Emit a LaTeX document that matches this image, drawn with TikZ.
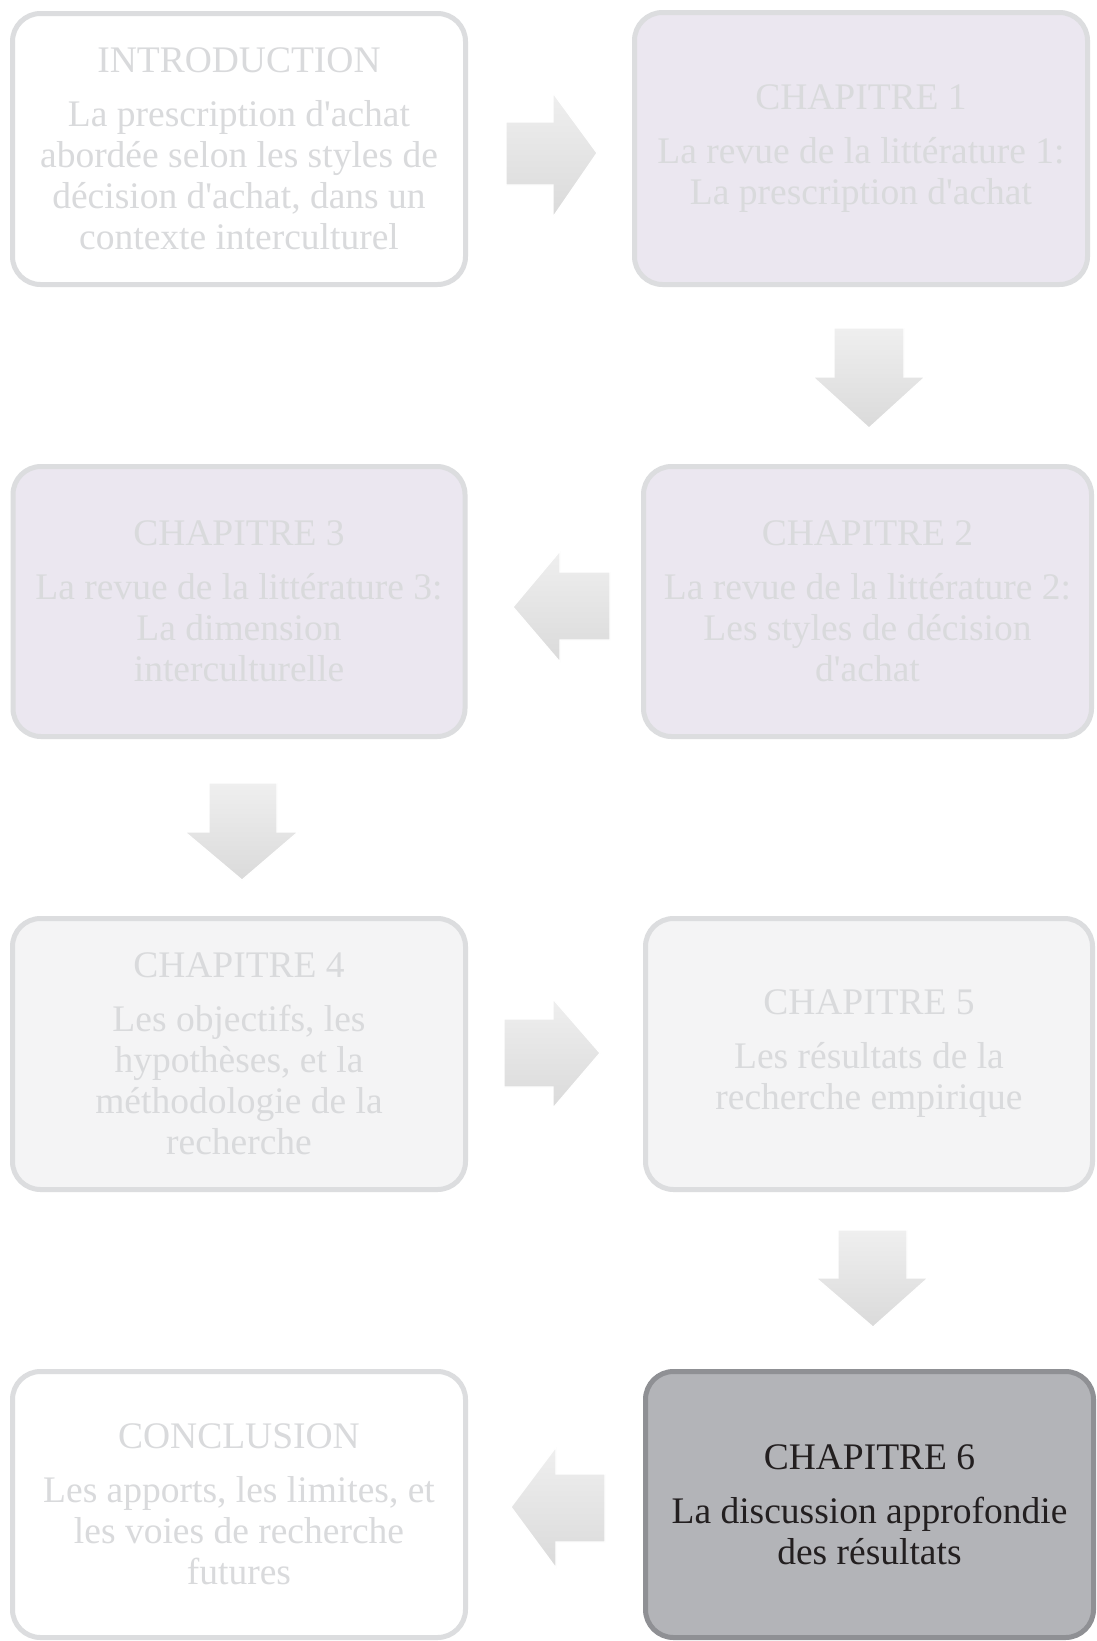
\documentclass[tikz,border=0pt]{standalone}
\usepackage{fontspec}
\setmainfont{Liberation Serif}[Ligatures=TeXOff]
\definecolor{bordlight}{HTML}{DCDDDF}
\definecolor{lavender}{HTML}{EBE7F0}
\definecolor{greyfill}{HTML}{F4F4F5}
\definecolor{txtlight}{HTML}{D9DADC}
\definecolor{darkfill}{HTML}{B3B4B8}
\definecolor{darkbord}{HTML}{8F9094}
\definecolor{darktxt}{HTML}{231F20}
\definecolor{arrtop}{HTML}{EFEFEF}
\definecolor{arrbot}{HTML}{DADADA}
\begin{document}
\begin{tikzpicture}[x=1pt,y=-1pt,
  chapbox/.style={rectangle, rounded corners=28pt, line width=5pt, draw=bordlight,
    align=center, text=txtlight, inner sep=4pt,
    font=\fontsize{37.5pt}{41pt}\selectfont},
  blockarrow/.style={top color=arrtop, bottom color=arrbot, draw=white, line width=1.2pt, line join=miter}]
\useasboundingbox (0,0) rectangle (1096,1641);
\fill[white] (0,0) rectangle (1096,1641);

% boxes
\node[chapbox, fill=white, minimum width=453pt, minimum height=271pt] (intro) at (239,149)
  {INTRODUCTION\\[13pt]La prescription d'achat\\abordée selon les styles de\\décision d'achat, dans un\\contexte interculturel};
\node[chapbox, fill=lavender, minimum width=453pt, minimum height=272pt] (ch1) at (861,148.5)
  {CHAPITRE 1\\[13pt]La revue de la littérature 1:\\La prescription d'achat};
\node[chapbox, fill=lavender, minimum width=448pt, minimum height=270pt] (ch2) at (867.5,601.5)
  {CHAPITRE 2\\[13pt]La revue de la littérature 2:\\Les styles de décision\\d'achat};
\node[chapbox, fill=lavender, minimum width=452pt, minimum height=270pt] (ch3) at (239,601.5)
  {CHAPITRE 3\\[13pt]La revue de la littérature 3:\\La dimension\\interculturelle};
\node[chapbox, fill=greyfill, minimum width=453pt, minimum height=271pt] (ch4) at (239,1054)
  {CHAPITRE 4\\[13pt]Les objectifs, les\\hypothèses, et la\\méthodologie de la\\recherche};
\node[chapbox, fill=greyfill, minimum width=447pt, minimum height=271pt] (ch5) at (869,1054)
  {CHAPITRE 5\\[13pt]Les résultats de la\\recherche empirique};
\node[chapbox, fill=darkfill, draw=darkbord, text=darktxt, minimum width=448pt, minimum height=266pt] (ch6) at (869.5,1504.5)
  {CHAPITRE 6\\[13pt]La discussion approfondie\\des résultats};
\node[chapbox, fill=white, minimum width=453pt, minimum height=266pt] (concl) at (239,1504.5)
  {CONCLUSION\\[13pt]Les apports, les limites, et\\les voies de recherche\\futures};

% block arrows
% 1: intro -> ch1 (right)
\path[blockarrow] (506,122) -- (553,122) -- (553,93) -- (597,153) -- (553,217) -- (553,185) -- (506,185) -- cycle;
% 2: ch1 -> ch2 (down)
\path[blockarrow] (834,328) -- (904,328) -- (904,377) -- (925,377) -- (869,428) -- (813,377) -- (834,377) -- cycle;
% 3: ch2 -> ch3 (left)
\path[blockarrow] (610,572) -- (560,572) -- (560,551) -- (513,607) -- (560,662) -- (560,640) -- (610,640) -- cycle;
% 4: ch3 -> ch4 (down)
\path[blockarrow] (209,783) -- (277,783) -- (277,832) -- (298,832) -- (242,880) -- (185,832) -- (209,832) -- cycle;
% 5: ch4 -> ch5 (right)
\path[blockarrow] (504,1019) -- (553,1019) -- (553,999) -- (600,1053) -- (553,1108) -- (553,1087) -- (504,1087) -- cycle;
% 6: ch5 -> ch6 (down)
\path[blockarrow] (838,1230) -- (907,1230) -- (907,1278) -- (928,1278) -- (873,1327) -- (816,1278) -- (838,1278) -- cycle;
% 7: ch6 -> conclusion (left)
\path[blockarrow] (605,1474) -- (556,1474) -- (556,1447) -- (511,1507) -- (556,1568) -- (556,1542) -- (605,1542) -- cycle;
\end{tikzpicture}
\end{document}
